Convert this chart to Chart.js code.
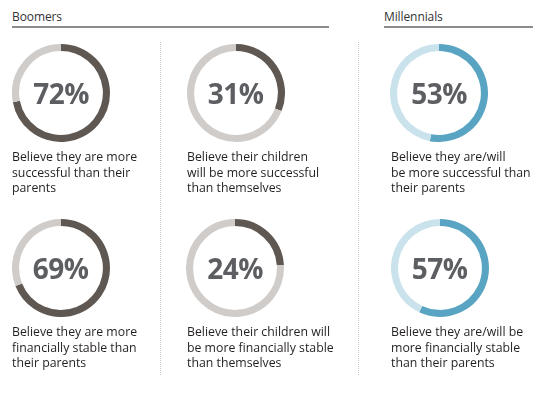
<!DOCTYPE html>
<html>
<head>
<meta charset="utf-8">
<script src="https://cdn.jsdelivr.net/npm/chart.js@4/dist/chart.umd.min.js"></script>
<style>
  html, body { margin: 0; padding: 0; background: #fff; }
  body { width: 542px; height: 397px; position: relative; overflow: hidden; font-family: "Open Sans", "Noto Sans", sans-serif; }
  .hdr { position: absolute; font-size: 12px; color: #333; top: 8px; letter-spacing: -0.1px; }
  .rule { position: absolute; height: 2px; background: #8c8c8c; top: 26px; }
  .vsep { position: absolute; width: 0; border-left: 1px dotted #c8c8c8; top: 42px; height: 333px; }
  .wrap { position: absolute; width: 98px; height: 98px; }
  .wrap canvas { position: absolute; left: 0; top: 0; }
  .pct { position: absolute; left: 0; top: 0; width: 98px; height: 98px; line-height: 98px; text-align: center;
         font-weight: 700; font-size: 28px; color: #5c5e62; letter-spacing: -0.5px; }
  .cap { position: absolute; font-size: 12.3px; line-height: 15.6px; color: #231f20; white-space: nowrap; }
</style>
</head>
<body>
<div class="hdr" style="left:12px">Boomers</div>
<div class="rule" style="left:12px; width:317px"></div>
<div class="hdr" style="left:384px">Millennials</div>
<div class="rule" style="left:384px; width:149px"></div>
<div class="vsep" style="left:160px"></div>
<div class="vsep" style="left:358px"></div>
<div id="charts"></div>
<script>
const groups = ["Boomers", "Boomers", "Millennials", "Boomers", "Boomers", "Millennials"];
const values = [72, 31, 53, 69, 24, 57];
const captions = [
  ["Believe they are more", "successful than their", "parents"],
  ["Believe their children", "will be more successful", "than themselves"],
  ["Believe they are/will", "be more successful than", "their parents"],
  ["Believe they are more", "financially stable than", "their parents"],
  ["Believe their children will", "be more financially stable", "than themselves"],
  ["Believe they are/will be", "more financially stable", "than their parents"]
];

const palette = {
  "Boomers": ["#5f5751", "#d0ccc9"],
  "Millennials": ["#58a4c2", "#c9e2eb"]
};
const centers = [[61, 93], [235.5, 92.5], [439, 93], [60.5, 267.5], [235, 267.5], [439.5, 267.5]];
const capPos = [[12, 149], [187, 149], [391, 149], [12, 324], [187, 324], [391, 324]];

const root = document.getElementById("charts");
values.forEach((v, i) => {
  const wrap = document.createElement("div");
  wrap.className = "wrap";
  wrap.style.left = (centers[i][0] - 49) + "px";
  wrap.style.top = (centers[i][1] - 49) + "px";
  const cv = document.createElement("canvas");
  cv.width = 98; cv.height = 98;
  cv.style.width = "98px"; cv.style.height = "98px";
  wrap.appendChild(cv);
  const pct = document.createElement("div");
  pct.className = "pct";
  pct.textContent = v + "%";
  wrap.appendChild(pct);
  root.appendChild(wrap);

  const cols = palette[groups[i]];
  new Chart(cv, {
    type: "doughnut",
    data: {
      labels: ["Yes", "Other"],
      datasets: [{
        data: [v, 100 - v],
        backgroundColor: cols,
        borderWidth: 0,
        hoverOffset: 0
      }]
    },
    options: {
      responsive: false,
      animation: false,
      cutout: "85.5%",
      rotation: 0,
      layout: { padding: 0 },
      plugins: { legend: { display: false }, tooltip: { enabled: false } },
      events: []
    }
  });

  const cap = document.createElement("div");
  cap.className = "cap";
  cap.style.left = capPos[i][0] + "px";
  cap.style.top = capPos[i][1] + "px";
  cap.innerHTML = captions[i].join("<br>");
  root.appendChild(cap);
});
</script>
</body>
</html>
